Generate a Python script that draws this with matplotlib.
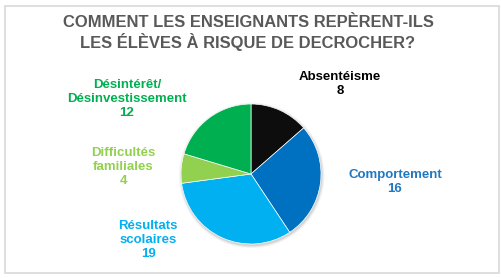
import matplotlib.pyplot as plt
from matplotlib.patches import Rectangle, Circle

plt.rcParams['font.family'] = ['Liberation Sans', 'DejaVu Sans']

# ── données ──────────────────────────────────────────────────────────────
categories = ['Absentéisme', 'Comportement', 'Résultats\nscolaires',
              'Difficultés\nfamiliales', 'Désintérêt/\nDésinvestissement']
values = [8, 16, 19, 4, 12]
colors = ['#0D0D0D', '#0070C0', '#00B0F0', '#92D050', '#00B050']
label_colors = ['#000000', '#1F78C1', '#00B0F0', '#92D050', '#00B050']
# position du centre du texte (pixels, depuis le haut-gauche)
label_pos = [(340, 84), (395, 182), (148, 240), (123, 167), (127, 99)]

W, H = 501, 278
fig = plt.figure(figsize=(W / 100, H / 100), dpi=100)

# cadre gris clair
fig.patches.append(Rectangle((5 / W, 5 / H), 494 / W, 267 / H, transform=fig.transFigure,
                             facecolor='white', edgecolor='#D9D9D9', linewidth=1.2,
                             zorder=-10))

# camembert
cx, cy, r = 251, 174, 70
ax = fig.add_axes([(cx - r - 4) / W, 1 - (cy + r + 4) / H, (2 * r + 8) / W, (2 * r + 8) / H])
ax.set_zorder(5)
# ombre légère
for k, a in [(1.04, 0.04), (1.025, 0.06), (1.01, 0.08)]:
    ax.add_patch(Circle((0.01, -0.02), k, color='black', alpha=a, lw=0))
ax.pie(values, colors=colors, startangle=90, counterclock=False,
       wedgeprops=dict(edgecolor='white', linewidth=0.5))
lim = (r + 4) / r
ax.set_xlim(-lim, lim)
ax.set_ylim(-lim, lim)
ax.axis('off')

# titre
fig.text(0.495, 1 - 33 / H, 'COMMENT LES ENSEIGNANTS REPÈRENT-ILS\nLES ÉLÈVES À RISQUE DE DECROCHER?',
         ha='center', va='center', fontsize=11.9, fontweight='bold', color='#595959',
         linespacing=1.15)

# étiquettes
for cat, v, col, (x, y) in zip(categories, values, label_colors, label_pos):
    fig.text(x / W, 1 - y / H, f'{cat}\n{v}', ha='center', va='center',
             fontsize=9.5, fontweight='bold', color=col, linespacing=1.2)

fig.savefig('out.png', dpi=100)
